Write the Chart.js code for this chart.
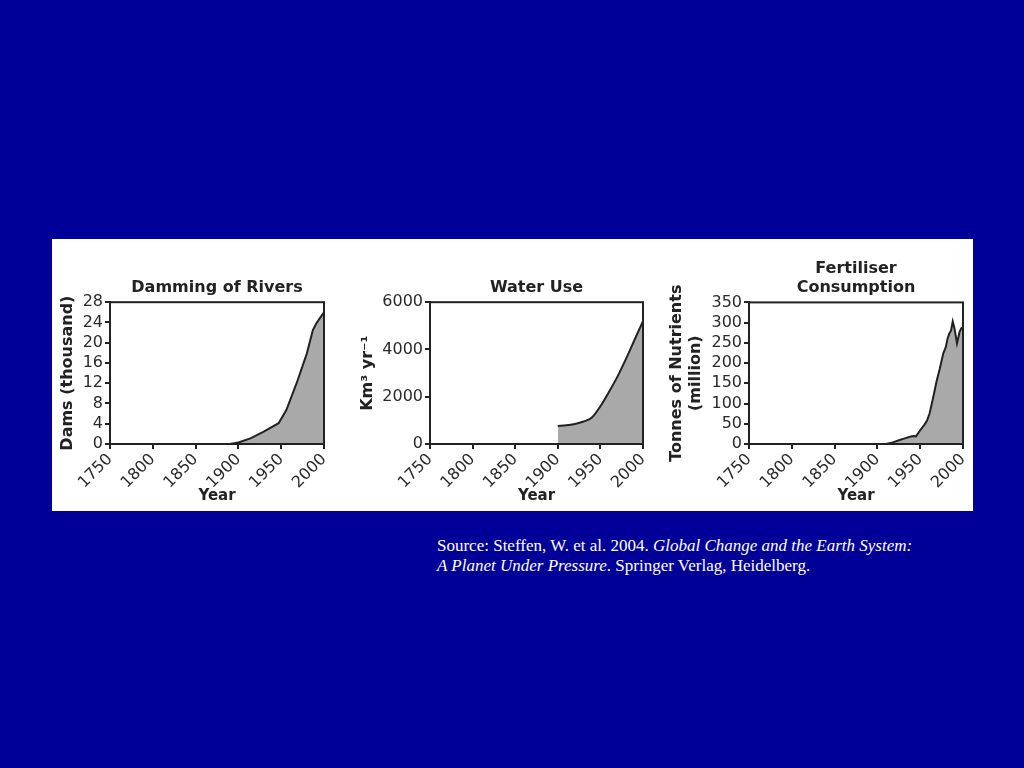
<!DOCTYPE html>
<html>
<head>
<meta charset="utf-8">
<script src="https://cdn.jsdelivr.net/npm/chart.js@4.4.1/dist/chart.umd.min.js"></script>
<style>
  body { margin: 0; background: #000099; width: 1024px; height: 768px; overflow: hidden; position: relative; }
  #panel { position: absolute; left: 52px; top: 239px; width: 921px; height: 272px; background: #fff; }
  canvas { position: absolute; top: 239px; }
  #source { position: absolute; left: 437px; top: 536px; color: #fff; font: 17px "Liberation Serif", serif; line-height: 20px; }
</style>
</head>
<body>
<div id="panel"></div>
<canvas id="dams" width="282" height="272" style="left:52px"></canvas>
<canvas id="water" width="313" height="272" style="left:340px"></canvas>
<canvas id="fert" width="318" height="272" style="left:655px"></canvas>
<div id="source">Source: Steffen, W. et al. 2004. <i>Global Change and the Earth System:<br>A Planet Under Pressure</i>. Springer Verlag, Heidelberg.</div>
<script>
const yearTicks = [1750, 1800, 1850, 1900, 1950, 2000];

const damYears = [1750, 1800, 1850, 1890, 1900, 1914, 1929, 1947, 1956, 1968, 1980, 1987, 1991, 1995, 2000];
const damValues = [0, 0, 0, 0, 0.3, 1.1, 2.4, 4.1, 6.7, 12, 17.9, 22.5, 23.8, 24.8, 26];
const damTicks = [0, 4, 8, 12, 16, 20, 24, 28];

const waterYears = [1900, 1910, 1920, 1930, 1940, 1950, 1960, 1970, 1980, 1990, 2000];
const waterValues = [760, 790, 850, 950, 1120, 1600, 2200, 2850, 3600, 4400, 5200];
const waterTicks = [0, 2000, 4000, 6000];

const fertYears = [1750, 1850, 1910, 1918, 1926, 1932, 1938, 1942, 1945, 1950, 1955, 1958, 1961, 1965, 1969, 1973, 1977, 1980, 1982, 1984, 1986, 1988, 1990, 1993, 1996, 1998, 2000];
const fertValues = [0, 0, 0, 4, 10, 14, 18, 20, 19, 34, 48, 58, 76, 113, 154, 187, 224, 240, 261, 273, 280, 303, 286, 249, 277, 286, 288];
const fertTicks = [0, 50, 100, 150, 200, 250, 300, 350];

const INK = "#222";
const FONT = "DejaVu Sans";

// box round the plot area
const frame = {
  id: "frame",
  afterDatasetsDraw(chart) {
    const { ctx, chartArea: a } = chart;
    ctx.save();
    ctx.strokeStyle = INK;
    ctx.lineWidth = 2;
    ctx.strokeRect(a.left, a.top, a.right - a.left, a.bottom - a.top);
    ctx.restore();
  }
};

function makeChart(id, years, values, yTicks, o) {
  const points = years.map((x, i) => ({ x: x, y: values[i] }));
  return new Chart(document.getElementById(id), {
    type: "line",
    data: {
      datasets: [{
        data: points,
        borderColor: INK,
        borderWidth: 2,
        backgroundColor: "#a9a9a9",
        fill: "origin",
        pointRadius: 0,
        tension: o.tension || 0,
        cubicInterpolationMode: o.tension ? "monotone" : "default"
      }]
    },
    options: {
      responsive: false,
      animation: false,
      layout: { padding: { top: 0, left: 0, right: 10, bottom: 5 } },
      plugins: {
        legend: { display: false },
        tooltip: { enabled: false },
        title: {
          display: true,
          text: o.title,
          fullSize: false,
          color: INK,
          font: { family: FONT, size: 16, weight: "bold", lineHeight: 1.2 },
          padding: o.titlePad
        }
      },
      scales: {
        x: {
          type: "linear",
          min: 1750,
          max: 2000,
          afterBuildTicks: s => { s.ticks = yearTicks.map(v => ({ value: v })); },
          afterFit: s => { s.height = 62; s.paddingLeft = 0; s.paddingRight = 0; },
          ticks: {
            autoSkip: false,
            minRotation: 45, maxRotation: 45, padding: 1,
            color: "#2a2a2a", font: { family: FONT, size: 16 },
            callback: v => String(v)
          },
          grid: { drawOnChartArea: false, tickLength: 5, color: INK, lineWidth: 2 },
          border: { color: INK, width: 2 },
          title: {
            display: true, text: "Year", color: INK,
            font: { family: FONT, size: 15, weight: "bold" },
            padding: { top: 0, bottom: 1 }
          }
        },
        y: {
          min: yTicks[0],
          max: yTicks[yTicks.length - 1],
          afterBuildTicks: s => { s.ticks = yTicks.map(v => ({ value: v })); },
          afterFit: s => { s.width = o.yWidth; },
          ticks: {
            autoSkip: false,
            padding: 2, color: "#2a2a2a", font: { family: FONT, size: 16 },
            callback: v => String(v)
          },
          grid: { drawOnChartArea: false, tickLength: 5, color: INK, lineWidth: 2 },
          border: { color: INK, width: 2 },
          title: {
            display: true, text: o.yTitle, color: INK,
            font: { family: FONT, size: 16, weight: "bold", lineHeight: 1.2 },
            padding: { top: o.yTitlePad, bottom: 0 }
          }
        }
      }
    },
    plugins: [frame]
  });
}

makeChart("dams", damYears, damValues, damTicks, {
  title: "Damming of Rivers", titlePad: { top: 39, bottom: 5 },
  yTitle: "Dams (thousand)", yTitlePad: 6, yWidth: 58
});
makeChart("water", waterYears, waterValues, waterTicks, {
  title: "Water Use", titlePad: { top: 39, bottom: 5 },
  yTitle: "Km³ yr⁻¹", yTitlePad: 18, yWidth: 90, tension: 0.4
});
makeChart("fert", fertYears, fertValues, fertTicks, {
  title: ["Fertiliser", "Consumption"], titlePad: { top: 20, bottom: 5 },
  yTitle: ["Tonnes of Nutrients", "(million)"], yTitlePad: 12, yWidth: 94
});
</script>
</body>
</html>
